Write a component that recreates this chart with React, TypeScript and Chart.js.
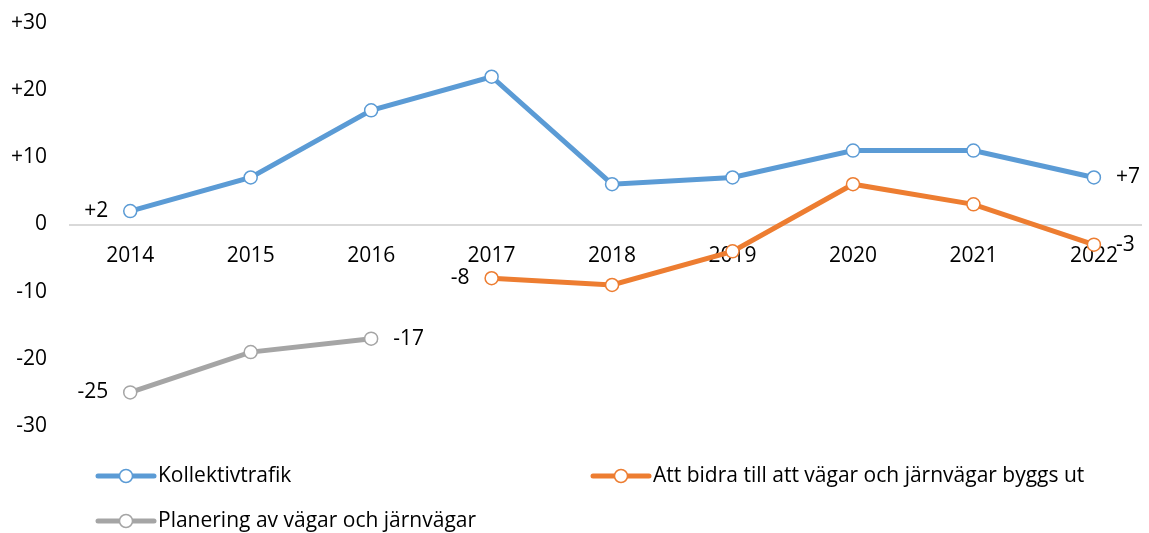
import React, { useEffect, useRef } from "react";
import { Chart, registerables } from "chart.js";

Chart.register(...registerables);

const categories = ["2014", "2015", "2016", "2017", "2018", "2019", "2020", "2021", "2022"];
const kollektivtrafik = [2, 7, 17, 22, 6, 7, 11, 11, 7];
const bidraUtbyggnad = [null, null, null, -8, -9, -4, 6, 3, -3];
const planering = [-25, -19, -17, null, null, null, null, null, null];
const yTickValues = [-30, -20, -10, 0, 10, 20, 30];

const seriesNames = [
  "Kollektivtrafik",
  "Att bidra till att vägar och järnvägar byggs ut",
  "Planering av vägar och järnvägar",
];
const seriesColors = ["#5B9BD5", "#ED7D31", "#A5A5A5"];

const FONT = "'Open Sans', 'DejaVu Sans', sans-serif";
const FONT_SIZE = 21;

const signed = (v: number) => (v > 0 ? "+" + v : String(v));

const toPoints = (arr: (number | null)[]) =>
  arr
    .map((v, i) => (v === null ? null : { x: i, y: v }))
    .filter((p) => p !== null) as { x: number; y: number }[];

const endLabelsPlugin = {
  id: "endLabels",
  afterDatasetsDraw(chart: any) {
    const ctx = chart.ctx;
    ctx.save();
    ctx.font = `${FONT_SIZE}px ${FONT}`;
    ctx.fillStyle = "#000";
    ctx.textBaseline = "middle";
    chart.data.datasets.forEach((ds: any, di: number) => {
      const meta = chart.getDatasetMeta(di);
      const pts = meta.data;
      if (!pts.length) return;
      const first = pts[0];
      const last = pts[pts.length - 1];
      const fv = ds.data[0].y;
      const lv = ds.data[ds.data.length - 1].y;
      ctx.textAlign = "right";
      ctx.fillText(signed(fv), first.x - 22, first.y);
      ctx.textAlign = "left";
      ctx.fillText(signed(lv), last.x + 22, last.y);
    });
    ctx.restore();
  },
};

const legendPlugin = {
  id: "customLegend",
  afterDraw(chart: any) {
    const ctx = chart.ctx;
    const items = [
      { x: 98, y: 476 },
      { x: 593, y: 476 },
      { x: 98, y: 521 },
    ];
    ctx.save();
    items.forEach((it, i) => {
      const color = seriesColors[i];
      ctx.strokeStyle = color;
      ctx.lineWidth = 5;
      ctx.lineCap = "round";
      ctx.beginPath();
      ctx.moveTo(it.x, it.y);
      ctx.lineTo(it.x + 56, it.y);
      ctx.stroke();
      ctx.beginPath();
      ctx.arc(it.x + 28, it.y, 6.5, 0, Math.PI * 2);
      ctx.fillStyle = "#fff";
      ctx.fill();
      ctx.lineWidth = 1.5;
      ctx.stroke();
      ctx.fillStyle = "#000";
      ctx.font = `${FONT_SIZE}px ${FONT}`;
      ctx.textAlign = "left";
      ctx.textBaseline = "middle";
      ctx.fillText(seriesNames[i], it.x + 60, it.y);
    });
    ctx.restore();
  },
};

export default function App() {
  const canvasRef = useRef<HTMLCanvasElement | null>(null);

  useEffect(() => {
    document.body.style.margin = "0";
    const canvas = canvasRef.current;
    if (!canvas) return;
    const seriesData = [kollektivtrafik, bidraUtbyggnad, planering];
    const chart = new Chart(canvas, {
      type: "line",
      data: {
        datasets: seriesData.map((arr, i) => ({
          label: seriesNames[i],
          data: toPoints(arr),
          borderColor: seriesColors[i],
          backgroundColor: "#ffffff",
          borderWidth: 5,
          pointRadius: 6.5,
          pointBorderWidth: 1.5,
          pointBorderColor: seriesColors[i],
          pointBackgroundColor: "#ffffff",
          tension: 0,
        })),
      },
      options: {
        responsive: false,
        animation: false,
        layout: { padding: { top: 23, bottom: 107, left: 8, right: 0 } },
        plugins: {
          legend: { display: false },
          tooltip: { enabled: false },
        },
        scales: {
          x: {
            type: "linear",
            position: { y: 0 },
            min: -0.5,
            max: 8.391,
            afterBuildTicks: (scale: any) => {
              scale.ticks = categories.map((_, i) => ({ value: i }));
            },
            afterFit: (scale: any) => {
              scale.height = 0;
            },
            grid: { display: false, drawTicks: false },
            border: { display: true, color: "#d9d9d9", width: 2 },
            ticks: {
              color: "#000",
              font: { family: FONT, size: FONT_SIZE },
              padding: 19,
              maxRotation: 0,
              autoSkip: false,
              callback: (v: any) => categories[Math.round(Number(v))] ?? "",
            },
          },
          y: {
            type: "linear",
            min: -30,
            max: 30,
            afterBuildTicks: (scale: any) => {
              scale.ticks = yTickValues.map((v) => ({ value: v }));
            },
            afterFit: (scale: any) => {
              scale.width = 62;
              scale.paddingTop = 0;
              scale.paddingBottom = 0;
            },
            grid: { display: false, drawTicks: false },
            border: { display: false },
            ticks: {
              color: "#000",
              font: { family: FONT, size: FONT_SIZE },
              padding: 23,
              callback: (v: any) => signed(Number(v)),
            },
          },
        },
      },
      plugins: [endLabelsPlugin, legendPlugin],
    } as any);
    return () => chart.destroy();
  }, []);

  return (
    <div style={{ width: 1149, height: 533 }}>
      <canvas ref={canvasRef} width={1149} height={533} />
    </div>
  );
}
